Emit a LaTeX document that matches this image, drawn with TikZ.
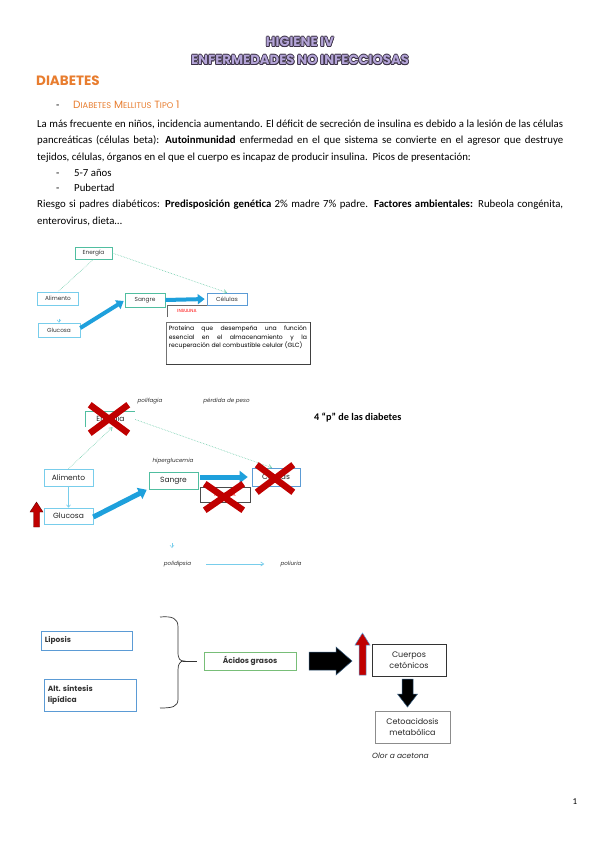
\documentclass[tikz,border=0pt]{standalone}
\usepackage{fontspec}
\setmainfont{Carlito}
\newfontfamily\diag{Poppins}
\usetikzlibrary{arrows.meta,shapes.misc,calc}
\definecolor{tlav}{RGB}{180,165,216}
\definecolor{tout}{RGB}{60,50,70}
\definecolor{orng}{RGB}{232,125,47}
\definecolor{tealb}{RGB}{80,190,160}
\definecolor{cyanb}{RGB}{120,205,235}
\definecolor{blueb}{RGB}{91,155,213}
\definecolor{arrb}{RGB}{30,160,220}
\definecolor{xred}{RGB}{192,0,0}
\definecolor{greenb}{RGB}{120,190,120}
\definecolor{dotc}{RGB}{110,205,170}
\tikzset{
  ttl/.style={font=\fontsize{13.2}{14}\selectfont\diag\bfseries, inner sep=0pt},
  body/.style={font=\fontsize{10.8}{13}\selectfont, inner sep=0pt, anchor=base west},
  sbox/.style={draw, line width=0.6pt, inner sep=0pt, align=center},
  tiny/.style={font=\fontsize{5.8}{6}\selectfont\diag, text=black!80},
  small/.style={font=\fontsize{7.5}{9}\selectfont\diag, text=black!85},
  tag/.style={font=\fontsize{5.6}{6}\selectfont\diag\itshape, inner sep=0pt, text=black!80},
  thick arrow/.style={arrb, line width=4pt, -{Triangle[length=7pt,width=10pt]}},
  big arrow/.style={arrb, line width=5pt, -{Triangle[length=8pt,width=12pt]}},
  dotline/.style={dotc, densely dotted, line width=0.6pt},
  xmark/.style={cross out, draw=xred, line width=6.5pt, inner sep=0pt},
}
\begin{document}
\begin{tikzpicture}[x=1pt,y=-1pt]
\useasboundingbox (0,0) rectangle (599,848);
\fill[white] (0,0) rectangle (599,848);

% title
\foreach \dx/\dy [count=\i] in {-0.8/0,0.8/0,0/-0.8,0/0.8,-0.6/-0.6,0.6/0.6,-0.6/0.6,0.6/-0.6}{
  \node[ttl, text=tout] (ts\i) at (300+\dx,42+\dy) {HIGIENE IV};
  \node[ttl, text=tout] (us\i) at (300+\dx,60+\dy) {ENFERMEDADES NO INFECCIOSAS};
}
\node[ttl, text=tlav] (t1) at (300,42) {HIGIENE IV};
\node[ttl, text=tlav] (t2) at (300,60) {ENFERMEDADES NO INFECCIOSAS};

% headings
\node[font=\fontsize{13.5}{14}\selectfont\diag\bfseries, text=orng, inner sep=0pt, anchor=west] (h1) at (36,81) {DIABETES};
\node[body] (d0) at (56,108.5) {-};
\node[font=\fontsize{10.5}{12}\selectfont\diag, text=orng, inner sep=0pt, anchor=west] (h2) at (73,105)
 {D{\fontsize{8.3}{9}\selectfont IABETES} M{\fontsize{8.3}{9}\selectfont ELLITUS} T{\fontsize{8.3}{9}\selectfont IPO} 1};

% body
\node[body] (l1) at (37,127.5) {\makebox[526pt][s]{La más frecuente en niños, incidencia aumentando. El déficit de secreción de insulina es debido a la lesión de las células}};
\node[body] (l2) at (37,143.5) {\makebox[526pt][s]{pancreáticas (células beta): \textbf{Autoinmunidad} enfermedad en el que sistema se convierte en el agresor que destruye}};
\node[body] (l3) at (37,160.5) {tejidos, células, órganos en el que el cuerpo es incapaz de producir insulina.\ \ Picos de presentación:};
\node[body] (b1) at (56,176.5) {-};
\node[body] (l4) at (74,176.5) {5-7 años};
\node[body] (b2) at (56,191.5) {-};
\node[body] (l5) at (74,191.5) {Pubertad};
\node[body] (l6) at (37,207.5) {\makebox[526pt][s]{Riesgo si padres diabéticos: \textbf{Predisposición genética} 2\% madre 7\% padre. \textbf{Factores ambientales:} Rubeola congénita,}};
\node[body] (l7) at (37,224.5) {enterovirus, dieta…};

% ---------- diagram 1 ----------
\node[sbox, draw=tealb, minimum width=37pt, minimum height=12pt, tiny] (en1) at (93.5,253) {Energía};
\node[sbox, draw=cyanb, minimum width=41pt, minimum height=13pt, tiny] (al1) at (58,298.5) {Alimento};
\node[sbox, draw=cyanb, minimum width=42pt, minimum height=14pt, tiny] (gl1) at (59,330) {Glucosa};
\node[sbox, draw=tealb, minimum width=40pt, minimum height=14pt, tiny] (sa1) at (145,300) {Sangre};
\node[sbox, draw=blueb, minimum width=40pt, minimum height=12pt, tiny] (ce1) at (227,299) {Células};
\node[inner sep=0pt, minimum width=40pt, minimum height=12pt, font=\fontsize{4.5}{5}\selectfont\diag, text=red] (in1) at (187,311) {INSULINA};
\draw[black!60, line width=0.5pt] (in1.south west) -- (in1.north west) -- (in1.north east);
\node[draw=black!55, line width=0.6pt, minimum width=144pt, minimum height=42pt, inner sep=0pt] (pr1) at (238,343.5) {};
\draw[black!75, line width=1.2pt] (pr1.north east) -- (pr1.south east) -- (pr1.south west);
\node[anchor=north west, text width=138pt, align=justify, inner sep=0pt, font=\fontsize{6.1}{8.6}\selectfont\diag] (pt1) at ($(pr1.north west)+(3,3.5)$)
 {Proteína que desempeña una función\linebreak esencial en el almacenamiento y la\linebreak recuperación del combustible celular (GLC)};
\draw[dotline] (en1.south) -- (al1.north);
\draw[dotline, -{Straight Barb[length=3pt,width=4pt]}] (en1.east) -- (ce1.north);
\coordinate (g1a) at ($(gl1.north)+(0,-4)$);
\draw[cyanb, line width=0.5pt, -{Straight Barb[length=2.5pt,width=4pt]}] (g1a) -- (gl1.north);
\draw[thick arrow] ([yshift=2pt]gl1.east) -- ([xshift=-1pt,yshift=-1pt]sa1.west);
\draw[thick arrow, shorten >=2pt] (sa1.east) -- (ce1.west);

% ---------- diagram 2 ----------
\node[tag] (pf) at (150,401) {polifagia};
\node[tag] (pp) at (226.5,401) {pérdida de peso};
\node[inner sep=0pt, minimum width=49pt, minimum height=15pt, small] (en2) at (110.5,419.5) {Energía};
\draw[tealb, line width=0.7pt] (en2.south west) -- (en2.north west) -- (en2.north east);
\node[font=\fontsize{10.2}{11}\selectfont\bfseries, inner sep=0pt, anchor=west] (p4) at (314,418) {4 “p” de las diabetes};
\node[sbox, draw=cyanb, minimum width=49pt, minimum height=17pt, small] (al2) at (68.5,477.5) {Alimento};
\node[sbox, draw=cyanb, minimum width=49pt, minimum height=16pt, small] (gl2) at (68.5,516) {Glucosa};
\node[tag] (hg) at (173,461) {hiperglucemia};
\node[sbox, draw=tealb, minimum width=49pt, minimum height=17pt, small] (sa2) at (173.5,481) {Sangre};
\node[sbox, draw=blueb, minimum width=48pt, minimum height=18pt, small] (ce2) at (276,477) {Células};
\node[sbox, draw=black!70, line width=0.9pt, minimum width=50pt, minimum height=15pt, font=\fontsize{5}{6}\selectfont\diag, text=red] (in2) at (225,494.5) {INSULINA};
\draw[dotline, -{Straight Barb[length=3pt,width=4pt]}] (al2.north) -- ([xshift=2pt]en2.south);
\draw[dotline, -{Straight Barb[length=3pt,width=4pt]}] (en2.east) -- ([xshift=-4pt]ce2.north);
\draw[cyanb, line width=0.6pt, -{Straight Barb[length=2.5pt,width=4pt]}] (al2.south) -- (gl2.north);
\draw[big arrow] ([yshift=-1pt]gl2.east) -- ([xshift=-2pt]sa2.south west);
\draw[big arrow, shorten >=4pt] ([xshift=2pt,yshift=4pt]sa2.east) -- ([yshift=0pt]ce2.west);
\node[xmark, minimum width=32pt, minimum height=22pt] (x1) at (109,419) {};
\node[xmark, minimum width=30pt, minimum height=21pt] (x2) at (275,478.5) {};
\node[xmark, minimum width=32pt, minimum height=20pt] (x3) at (224,497) {};
% red up arrow
\filldraw[fill=xred, draw=black!60!red, line width=0.4pt]
  (33.5,527) -- (33.5,512) -- (30,512) -- (36.5,502) -- (43,512) -- (39.5,512) -- (39.5,527) -- cycle;
\coordinate (vt) at (172,543);
\draw[cyanb, line width=0.4pt, -{Straight Barb[length=2.5pt,width=4pt]}] (vt) -- ++(0,5);
\node[tag] (pd) at (177.5,564) {polidipsia};
\node[tag] (pu) at (291,564) {poliuria};
\draw[cyanb, line width=0.7pt, -{Straight Barb[length=3pt,width=4pt]}] ([xshift=15pt]pd.east) -- ([xshift=-16pt]pu.west);

% ---------- diagram 3 ----------
\node[draw=blueb, line width=0.8pt, minimum width=91pt, minimum height=19pt, inner sep=0pt] (lp) at (86.5,640.5) {};
\node[anchor=west, inner sep=0pt, font=\fontsize{7.5}{9}\selectfont\diag\bfseries, text=black!80] (lpt) at ($(lp.west)+(4,0)$) {Liposis};
\node[draw=blueb, line width=0.8pt, minimum width=92pt, minimum height=32pt, inner sep=0pt] (as) at (90,695) {};
\node[anchor=west, inner sep=0pt, align=left, font=\fontsize{7.5}{11.5}\selectfont\diag\bfseries, text=black!80] (ast) at ($(as.west)+(4,0)$) {Alt. síntesis\\lipídica};
\draw[black!80, line width=0.7pt] (160,617) .. controls (172,616) and (178,618) .. (178,627) -- (178,652)
  .. controls (178,659) and (180,661) .. (184,661) .. controls (180,661) and (178,664) .. (178,670)
  -- (178,699) .. controls (178,707) and (172,708) .. (160,708);
\node[draw=greenb, line width=0.8pt, minimum width=92pt, minimum height=18pt, inner sep=0pt, font=\fontsize{7.5}{9}\selectfont\diag\bfseries, text=black!80] (ac) at (250,661) {Ácidos grasos};
\coordinate (bt) at (183,661);
\draw[black!80, line width=0.7pt] (bt) -- ([xshift=-7pt]ac.west);
% black right arrow
\filldraw[fill=black, draw=blueb!60!black, line width=0.5pt]
  (309,652) -- (336,652) -- (336,647) -- (352,661) -- (336,675) -- (336,670) -- (309,670) -- cycle;
% red up arrow
\filldraw[fill=xred, draw=blueb, line width=0.5pt]
  (359,675) -- (359,645) -- (355,645) -- (362.5,633) -- (370,645) -- (366,645) -- (366,675) -- cycle;
\node[draw=black!80, line width=0.9pt, minimum width=74pt, minimum height=32pt, inner sep=0pt, align=center, font=\fontsize{8}{11}\selectfont\diag, text=black!85] (cc) at (409,660) {Cuerpos\\cetónicos};
% black down arrow
\filldraw[fill=black, draw=blueb!60!black, line width=0.5pt]
  (402,679) -- (413,679) -- (413,694) -- (417.5,694) -- (407.5,707) -- (397.5,694) -- (402,694) -- cycle;
\node[draw=black!45, line width=1pt, minimum width=75pt, minimum height=32pt, inner sep=0pt, align=center, font=\fontsize{8}{11}\selectfont\diag, text=black!85] (ca) at (412.5,727) {Cetoacidosis\\metabólica};
\node[font=\fontsize{7.5}{9}\selectfont\diag\itshape, inner sep=0pt, text=black!85] (ol) at (400.5,756) {Olor a acetona};

\node[font=\fontsize{9}{10}\selectfont, inner sep=0pt] (pg) at (575,802) {1};
\end{tikzpicture}
\end{document}
